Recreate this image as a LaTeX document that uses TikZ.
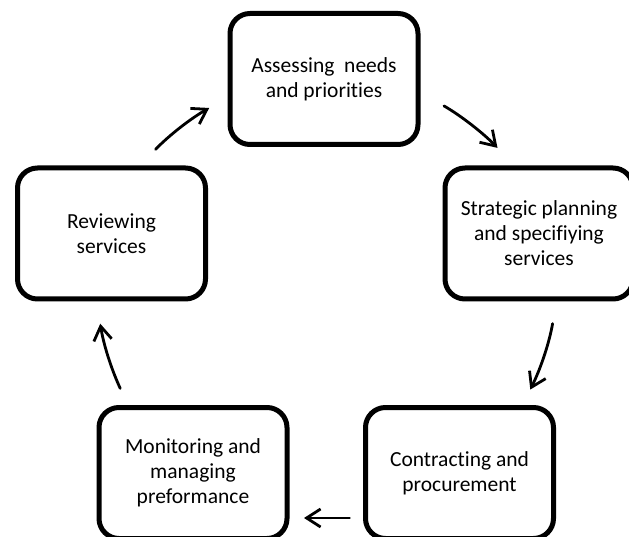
\documentclass[tikz,border=0pt]{standalone}
\usepackage{fontspec}
\setmainfont{Carlito}[Ligatures=NoCommon]
\usetikzlibrary{arrows.meta}

\begin{document}
\begin{tikzpicture}[x=1pt, y=1pt,
    stage/.style={draw, line width=5pt, rounded corners=20pt,
      minimum width=188pt, minimum height=131pt, outer sep=0pt,
      align=center, font=\fontsize{21.5}{25}\selectfont},
    flow/.style={line width=2.8pt, line cap=round,
      -{Straight Barb[length=14pt,width=18pt]}}]
  \clip (0,0) rectangle (629,536);

  % Stages of the cycle
  \node[stage] (assess)   at (324,457)   {Assessing~ needs\\and priorities};
  \node[stage] (plan)     at (539,302.5) {Strategic planning\\and specifiying\\services};
  \node[stage] (contract) at (459.5,63)  {Contracting and\\procurement};
  \node[stage] (monitor)  at (193,63)    {Monitoring and\\managing\\preformance};
  \node[stage] (review)   at (111.5,302.5) {Reviewing\\services};

  % Arrows between stages (clockwise)
  \draw[flow, shorten <=26pt, shorten >=24pt]
    ([xshift=26pt]review.north) to[bend left=8] ([yshift=-17pt]assess.west);
  \draw[flow, shorten <=30pt, shorten >=28pt]
    ([yshift=-12pt]assess.east) to[bend left=8] ([xshift=-22pt]plan.north);
  \draw[flow, shorten <=25pt, shorten >=20pt]
    ([xshift=18pt]plan.south) to[bend left=8] ([xshift=62pt]contract.north);
  \draw[flow, shorten <=16pt, shorten >=17pt]
    ([yshift=-45pt]contract.west) -- ([yshift=-45pt]monitor.east);
  \draw[flow, shorten <=21pt, shorten >=25pt]
    ([xshift=-64pt]monitor.north) to[bend left=8] ([xshift=-15pt]review.south);
\end{tikzpicture}
\end{document}
